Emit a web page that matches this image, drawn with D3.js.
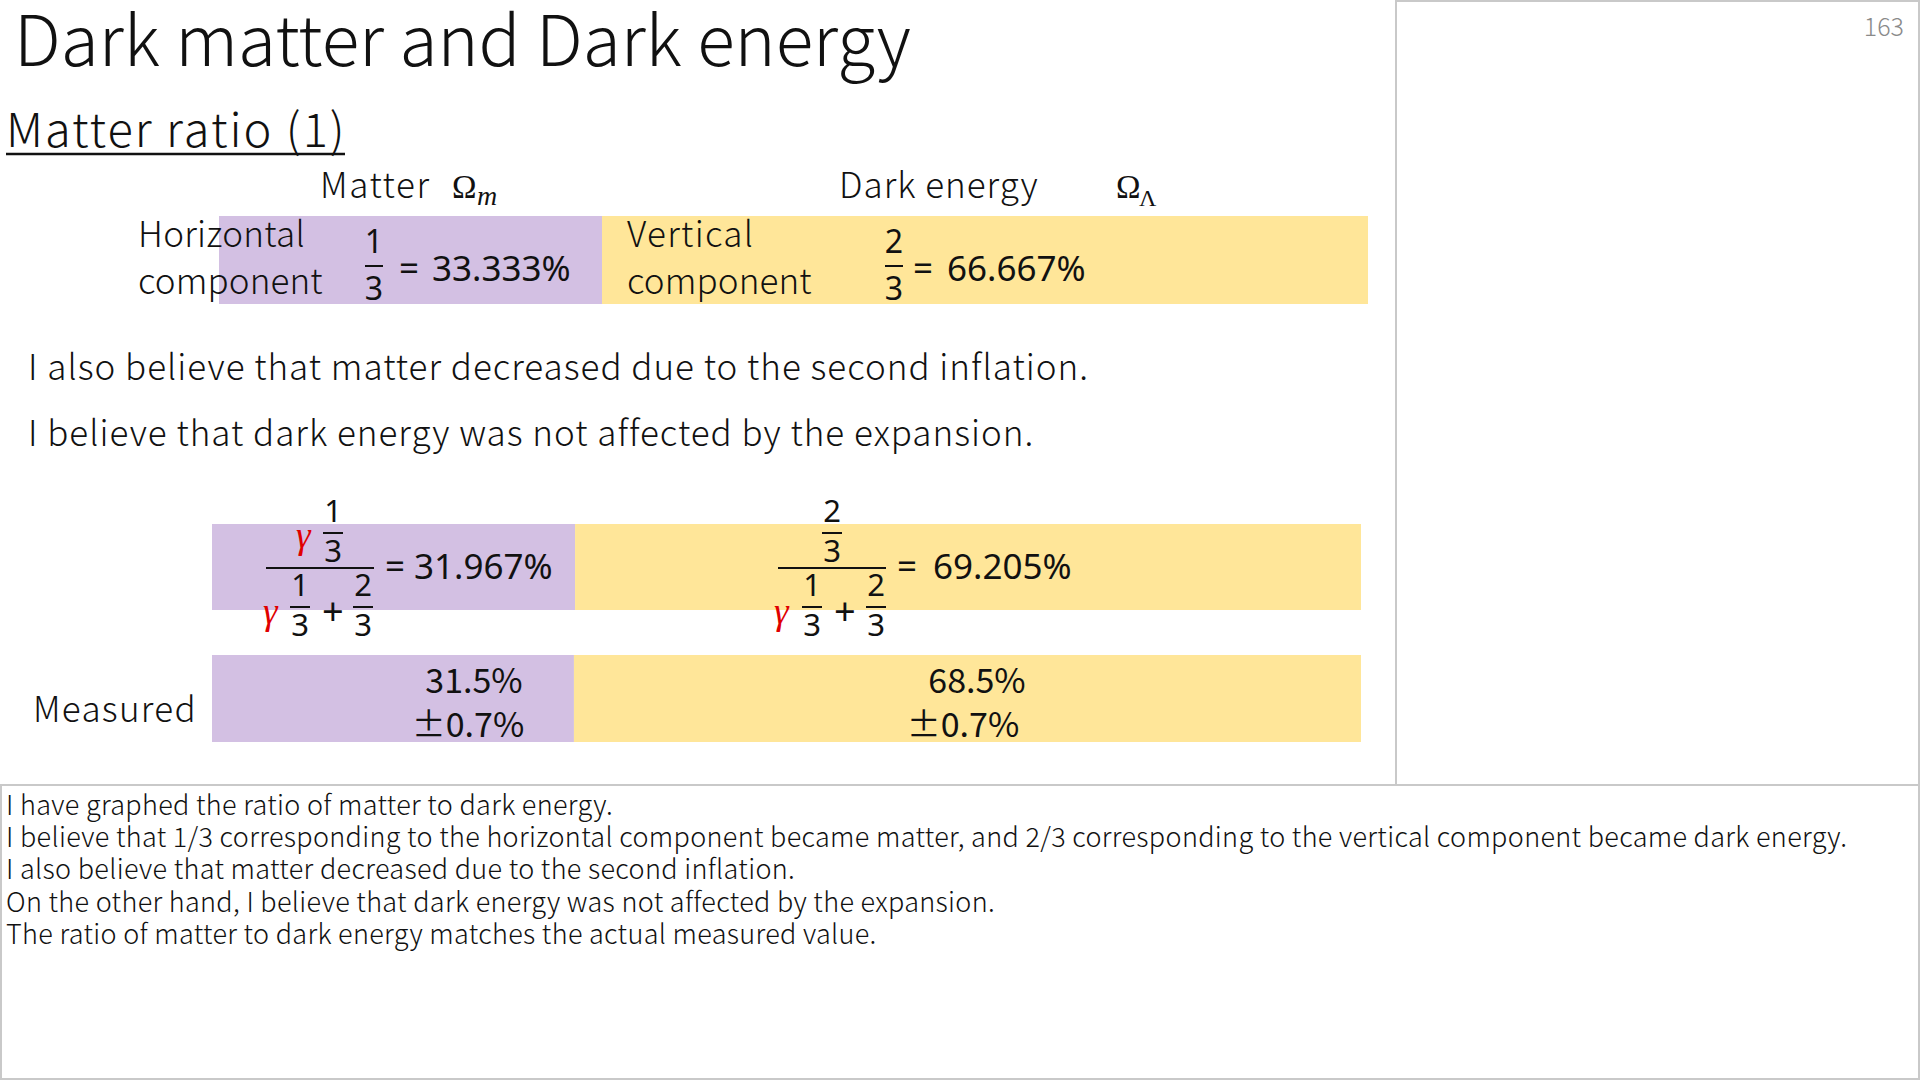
<!DOCTYPE html>
<html>
<head>
<meta charset="utf-8">
<script src="https://cdn.jsdelivr.net/npm/d3@7"></script>
<style>
  body { margin: 0; background: #fff; }
  svg { display: block; }
  .sans { font-family: "Noto Sans CJK JP", "Noto Sans", sans-serif; font-weight: 300; fill: #111; }
  .num { font-family: "Noto Sans", "DejaVu Sans", sans-serif; fill: #111; }
  .ser { font-family: "Liberation Serif", "DejaVu Serif", serif; fill: #111; }
</style>
</head>
<body>
<svg id="chart" width="1920" height="1080"></svg>
<script>
// data
var rowNames = ["Horizontal / Vertical component", "After second inflation", "Measured"]
var matterValues = [33.333, 31.967, 31.5]
var darkValues = [66.667, 69.205, 68.5]
var measuredErrors = [0.7, 0.7]
var bodyLines = [
  "I also believe that matter decreased due to the second inflation.",
  "I believe that dark energy was not affected by the expansion."
]
var notes = [
  "I have graphed the ratio of matter to dark energy.",
  "I believe that 1/3 corresponding to the horizontal component became matter, and 2/3 corresponding to the vertical component became dark energy.",
  "I also believe that matter decreased due to the second inflation.",
  "On the other hand, I believe that dark energy was not affected by the expansion.",
  "The ratio of matter to dark energy matches the actual measured value."
]

var purple = "#d3c0e3", yellow = "#ffe699"
var barW = 1149
var rowX = [219, 212, 212]
var rowY = [216, 524, 655]
var rowH = [88, 86, 87]

var svg = d3.select("#chart")

// frames
svg.append("rect").attr("x", 1396).attr("y", 1).attr("width", 523).attr("height", 784)
  .attr("fill", "none").attr("stroke", "#c9c9c9").attr("stroke-width", 2)
svg.append("rect").attr("x", 1).attr("y", 785).attr("width", 1918).attr("height", 294)
  .attr("fill", "none").attr("stroke", "#c9c9c9").attr("stroke-width", 2)

svg.append("text").attr("x", 1904).attr("y", 36).attr("text-anchor", "end")
  .attr("class", "sans").style("font-size", "25px").style("fill", "#8a8a8a").text("163")

// titles
svg.append("text").attr("class", "sans").attr("x", 14).attr("y", 66)
  .style("font-size", "69.5px").text("Dark matter and Dark energy")
svg.append("text").attr("class", "sans").attr("x", 6).attr("y", 147)
  .style("font-size", "47px").style("letter-spacing", "2px").text("Matter ratio (1)")
svg.append("line").attr("x1", 6).attr("x2", 345).attr("y1", 154).attr("y2", 154)
  .attr("stroke", "#111").attr("stroke-width", 2.5)

// stacked bars
var table = rowNames.map(function(d, i){
  return {row: d, matter: matterValues[i], dark: darkValues[i]}
})
var series = d3.stack().keys(["matter", "dark"])(table)
var colour = d3.scaleOrdinal().domain(["matter", "dark"]).range([purple, yellow])

var xScales = table.map(function(d, i){
  return d3.scaleLinear().domain([0, d.matter + d.dark]).range([rowX[i], rowX[i] + barW])
})

svg.selectAll("g.layer")
  .data(series)
  .enter()
  .append("g")
  .attr("class", "layer")
  .attr("fill", function(d){ return colour(d.key) })
  .selectAll("rect")
  .data(function(d){ return d })
  .enter()
  .append("rect")
  .attr("x", function(d, i){ return xScales[i](d[0]) })
  .attr("width", function(d, i){ return xScales[i](d[1]) - xScales[i](d[0]) })
  .attr("y", function(d, i){ return rowY[i] })
  .attr("height", function(d, i){ return rowH[i] })

function label(x, y, s, size, ls){
  return svg.append("text").attr("class", "sans").attr("x", x).attr("y", y)
    .style("font-size", size + "px").style("letter-spacing", (ls || 0) + "px").text(s)
}

// column headers
label(320, 198, "Matter", 35, 1.6)
svg.append("text").attr("class", "ser").attr("x", 452).attr("y", 198).style("font-size", "33px").text("\u03a9")
svg.append("text").attr("class", "ser").attr("x", 477).attr("y", 205).style("font-size", "28px").style("font-style", "italic").text("m")
label(839, 198, "Dark energy", 35, 1)
svg.append("text").attr("class", "ser").attr("x", 1116).attr("y", 198).style("font-size", "33px").text("\u03a9")
svg.append("text").attr("class", "ser").attr("x", 1139).attr("y", 206).style("font-size", "24px").text("\u039b")

var pct = function(v){ return d3.format(".3f")(v) + "%" }

function frac(cx, yl, num, den, size, half, up, down){
  svg.append("text").attr("class", "num").attr("x", cx).attr("y", yl - up).attr("text-anchor", "middle")
    .style("font-size", size + "px").text(num)
  svg.append("line").attr("x1", cx - half).attr("x2", cx + half).attr("y1", yl).attr("y2", yl)
    .attr("stroke", "#111").attr("stroke-width", 2)
  svg.append("text").attr("class", "num").attr("x", cx).attr("y", yl + down).attr("text-anchor", "middle")
    .style("font-size", size + "px").text(den)
}
function gamma(x, y){
  svg.append("text").attr("class", "ser").attr("x", x).attr("y", y)
    .style("font-size", "37px").style("font-style", "italic").style("fill", "#e00000").text("\u03b3")
}
function mathText(x, y, s, size){
  svg.append("text").attr("class", "num").attr("x", x).attr("y", y).style("font-size", (size || 35) + "px").text(s)
}
function bar(x1, x2, y){
  svg.append("line").attr("x1", x1).attr("x2", x2).attr("y1", y).attr("y2", y)
    .attr("stroke", "#111").attr("stroke-width", 2.2)
}

// row 1
label(138, 247, "Horizontal", 35, 0.3)
label(138, 294, "component", 35, 0.1)
frac(374, 266, "1", "3", 32, 9, 13, 34)
mathText(399, 281, "=")
mathText(432, 281, pct(matterValues[0]))
label(627, 247, "Vertical", 35, 1.3)
label(627, 294, "component", 35, 0.1)
frac(894, 266, "2", "3", 32, 9, 13, 34)
mathText(913, 281, "=")
mathText(947, 281, pct(darkValues[0]))

// body lines
svg.selectAll("text.body")
  .data(bodyLines)
  .enter()
  .append("text")
  .attr("class", "sans body")
  .attr("x", 28)
  .attr("y", function(d, i){ return 380 + i * 66 })
  .style("font-size", "35px")
  .style("letter-spacing", "1px")
  .text(function(d){ return d })

// row 2 : left
gamma(296, 548)
frac(333, 533, "1", "3", 31, 10, 11, 29)
bar(266, 374, 568)
gamma(263, 624)
frac(300, 607, "1", "3", 31, 10, 11, 29)
mathText(322, 625, "+", 38)
frac(363, 607, "2", "3", 31, 10, 11, 29)
mathText(385, 579, "=")
mathText(414, 579, pct(matterValues[1]))

// row 2 : right
frac(832, 533, "2", "3", 31, 10, 11, 29)
bar(778, 886, 568)
gamma(774, 624)
frac(812, 607, "1", "3", 31, 10, 11, 29)
mathText(834, 625, "+", 38)
frac(876, 607, "2", "3", 31, 10, 11, 29)
mathText(897, 579, "=")
mathText(933, 579, pct(darkValues[1]))

// row 3
label(33, 722, "Measured", 35, 1.3)
var measured = [
  {x: 474, y: 693, s: matterValues[2] + "%"},
  {x: 468, y: 737, s: "\u00b1" + measuredErrors[0] + "%"},
  {x: 977, y: 693, s: darkValues[2] + "%"},
  {x: 963, y: 737, s: "\u00b1" + measuredErrors[1] + "%"}
]
svg.selectAll("text.meas")
  .data(measured)
  .enter()
  .append("text")
  .attr("class", "sans meas")
  .attr("x", function(d){ return d.x })
  .attr("y", function(d){ return d.y })
  .attr("text-anchor", "middle")
  .style("font-size", "34px")
  .style("font-weight", 400)
  .text(function(d){ return d.s })

// notes
svg.selectAll("text.note")
  .data(notes)
  .enter()
  .append("text")
  .attr("class", "sans note")
  .attr("x", 6)
  .attr("y", function(d, i){ return 815 + i * 32.2 })
  .style("font-size", "27px")
  .style("letter-spacing", "0.32px")
  .text(function(d){ return d })
</script>
</body>
</html>
